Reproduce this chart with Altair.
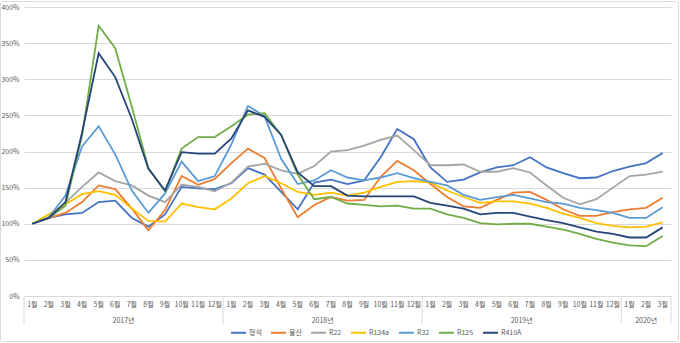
import altair as alt
import pandas as pd

# ---- data ----
years = ["2017년", "2018년", "2019년", "2020년"]
months_per_year = [12, 12, 12, 3]
month_labels = [f"{m}월" for n in months_per_year for m in range(1, n + 1)]

series_names = ["형석", "불산", "R22", "R134a", "R32", "R125", "R410A"]
colors = ["#4472C4", "#ED7D31", "#A5A5A5", "#FFC000", "#5B9BD5", "#70AD47", "#264478"]

fluorite = [100, 108, 113, 115, 130, 132, 108, 96, 113, 151, 149, 148, 156, 177, 168, 144, 120, 157, 161, 155,
            160, 192, 231, 217, 178, 158, 161, 171, 178, 181, 192, 178, 170, 163, 164, 173, 179, 184, 198]
hf = [100, 108, 115, 130, 153, 148, 121, 91, 119, 166, 154, 162, 184, 204, 191, 149, 109, 126, 137, 132,
      133, 165, 187, 174, 155, 137, 124, 122, 133, 143, 144, 133, 120, 111, 111, 116, 120, 122, 136]
r22 = [100, 109, 129, 151, 171, 159, 153, 139, 130, 154, 151, 145, 157, 179, 183, 174, 169, 180, 200, 202,
       208, 216, 222, 202, 181, 181, 182, 172, 172, 177, 171, 153, 136, 127, 134, 150, 166, 168, 172]
r134a = [100, 113, 127, 141, 145, 140, 121, 104, 103, 128, 123, 120, 135, 156, 166, 156, 144, 140, 143, 139,
         143, 151, 158, 159, 157, 146, 137, 129, 131, 131, 128, 122, 114, 108, 101, 97, 95, 96, 102]
r32 = [100, 109, 139, 207, 235, 196, 146, 115, 142, 186, 159, 166, 210, 263, 249, 190, 155, 160, 174, 164,
       160, 164, 170, 163, 158, 153, 140, 133, 137, 140, 135, 130, 128, 122, 119, 115, 108, 108, 123]
r125 = [100, 108, 125, 222, 374, 343, 262, 177, 145, 204, 220, 220, 235, 251, 253, 223, 168, 134, 137, 128,
        126, 124, 125, 121, 121, 113, 108, 101, 99, 100, 100, 96, 92, 86, 79, 74, 70, 69, 83]
r410a = [100, 108, 130, 226, 336, 303, 245, 176, 146, 199, 197, 197, 218, 257, 248, 223, 171, 152, 152, 139,
         138, 138, 138, 138, 129, 125, 121, 113, 115, 115, 110, 105, 101, 95, 89, 86, 81, 81, 95]

values = [fluorite, hf, r22, r134a, r32, r125, r410a]

# ---- tables ----
rows = []
for k, (name, vals) in enumerate(zip(series_names, values)):
    for i, v in enumerate(vals):
        rows.append({"idx": i, "series": name, "k": k, "value": v / 100.0})
df = pd.DataFrame(rows)

month_df = pd.DataFrame({"idx": list(range(len(month_labels))), "label": month_labels})

starts = []
s = 0
for n in months_per_year:
    starts.append(s)
    s += n
year_df = pd.DataFrame({"mid": [st + (n - 1) / 2 for st, n in zip(starts, months_per_year)], "label": years})
bounds = [st - 0.5 for st in starts] + [s - 0.5]
bound_df = pd.DataFrame({"b": bounds})

FONT = "Noto Sans CJK KR"
W, H = 647, 289
N = len(month_labels)


def xs():
    return alt.Scale(domain=[-0.5, N - 0.5], nice=False, zero=False)


frame = alt.Chart(pd.DataFrame({"f": [0]})).mark_rect(
    fill="white", fillOpacity=0, stroke="#D9D9D9", strokeWidth=1, cornerRadius=2
).encode(
    x=alt.value(-23.5), x2=alt.value(W + 7.5),
    y=alt.value(-5.5), y2=alt.value(H + 45.5),
)

lines = alt.Chart(df).mark_line(strokeWidth=1.8).encode(
    x=alt.X("idx:Q", scale=xs(), axis=None),
    y=alt.Y("value:Q", scale=alt.Scale(domain=[0, 4], nice=False),
            axis=alt.Axis(format=".0%", values=[0, 0.5, 1, 1.5, 2, 2.5, 3, 3.5, 4], title=None,
                          domain=False, ticks=False, labelPadding=5, labelFontSize=7,
                          labelColor="#595959", labelFont=FONT,
                          gridColor="#D9D9D9", gridWidth=1)),
    color=alt.Color("series:N", scale=alt.Scale(domain=series_names, range=colors),
                    legend=alt.Legend(title=None, orient="none", direction="horizontal",
                                      legendX=206, legendY=317, symbolType="stroke",
                                      symbolSize=225, symbolStrokeWidth=2, labelFontSize=7,
                                      labelColor="#595959", labelFont=FONT,
                                      labelOffset=2, columnPadding=5)),
)

month_text = alt.Chart(month_df).mark_text(fontSize=7, color="#595959", font=FONT).encode(
    x=alt.X("idx:Q", scale=xs(), axis=None),
    y=alt.value(H + 9),
    text="label:N",
)

year_text = alt.Chart(year_df).mark_text(fontSize=7, color="#595959", font=FONT).encode(
    x=alt.X("mid:Q", scale=xs(), axis=None),
    y=alt.value(H + 25),
    text="label:N",
)

sep = alt.Chart(bound_df).mark_rule(color="#D9D9D9", strokeWidth=1).encode(
    x=alt.X("b:Q", scale=xs(), axis=None),
    y=alt.value(H),
    y2=alt.value(H + 28),
)

chart = alt.layer(frame, sep, lines, month_text, year_text).properties(
    width=W, height=H,
    background="white",
    autosize=alt.AutoSizeParams(type="none"),
    padding={"left": 24, "top": 7, "right": 9, "bottom": 47},
).configure_view(strokeWidth=0)

chart.save("out.html", embed_options={"renderer": "svg", "actions": False})
